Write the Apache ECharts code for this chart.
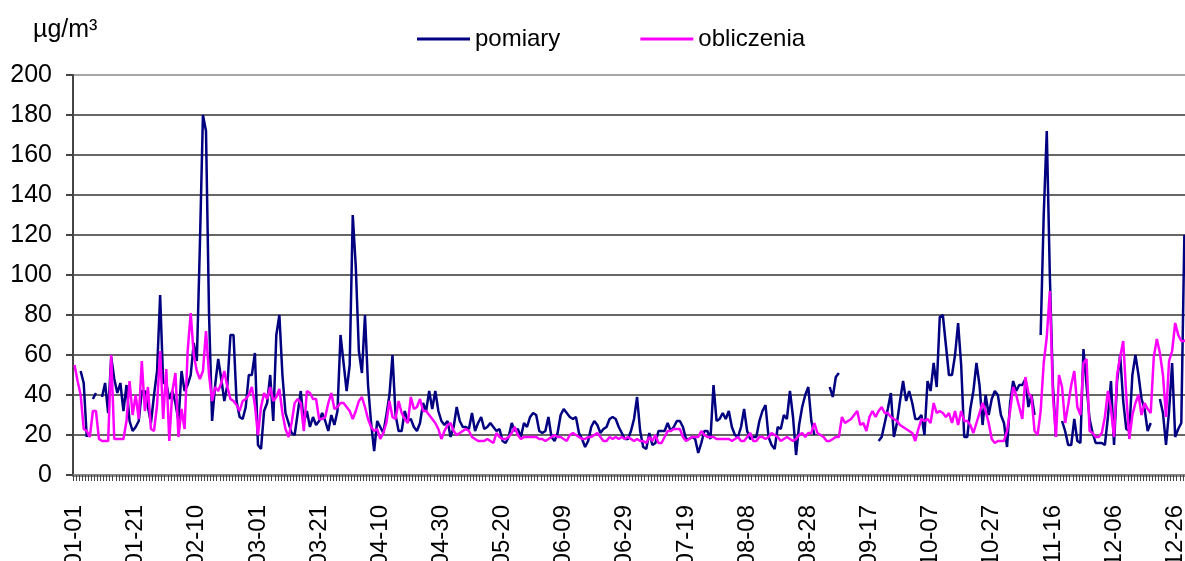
<!DOCTYPE html>
<html>
<head>
<meta charset="utf-8">
<script src="https://cdn.jsdelivr.net/npm/echarts@6/dist/echarts.min.js"></script>
<style>
  html, body { margin: 0; padding: 0; background: #fff; }
  #chart { width: 1185px; height: 561px; }
</style>
</head>
<body>
<div id="chart"></div>
<script>
// leap year, one category per day
const monthDays = [31, 29, 31, 30, 31, 30, 31, 31, 30, 31, 30, 31];

const pomiary = [
  null, null, 52, 46, 19, null, 38, 41, null, 39, 46, 31, 59, 48, 41, 46, 32, 45, 27, 22,
  24, 27, 42, 42, 34, 26, 40, 52, 90, 46, 46, 38, 42, 36, 27, 52, 42, 45, 50, 66,
  57, 115, 180, 172, 80, 27, 45, 58, 48, 37, 45, 70, 70, 37, 29, 28, 34, 50, 50, 61,
  15, 13, 32, 36, 50, 27, 70, 80, 50, 31, 26, 21, 20, 31, 42, 26, 32, 24, 29, 25,
  27, 31, 27, 22, 30, 25, 32, 70, 56, 42, 55, 130, 104, 62, 51, 80, 45, 26, 12, 27,
  24, 21, 30, 40, 60, 30, 22, 22, 32, 27, 28, 24, 22, 26, 36, 32, 42, 33, 42, 32,
  27, 25, 27, 19, 24, 34, 27, 24, 24, 23, 31, 22, 26, 29, 23, 24, 26, 24, 22, 23,
  17, 16, 19, 26, 22, 23, 19, 26, 24, 29, 31, 30, 22, 21, 22, 29, 19, 17, 21, 30,
  33, 31, 29, 28, 29, 21, 18, 14, 17, 24, 27, 25, 21, 23, 24, 28, 29, 28, 24, 21,
  18, 18, 22, 28, 39, 22, 14, 13, 21, 15, 16, 22, 22, 22, 26, 22, 24, 27, 27, 24,
  18, 18, 19, 18, 11, 16, 22, 22, 18, 45, 27, 28, 31, 28, 32, 24, 20, 19, 24, 33,
  22, 18, 19, 19, 27, 32, 35, 19, 15, 13, 24, 23, 30, 28, 42, 29, 10, 25, 34, 40,
  44, 27, 20, null, null, null, null, 44, 39, 49, 51, null, null, null, null, null, null, null, null, null,
  null, null, null, 17, 19, 26, 33, 41, 19, 26, 37, 47, 37, 42, 36, 28, 28, 30, 20, 47,
  42, 56, 44, 79, 80, 65, 50, 50, 60, 76, 55, 19, 19, 33, 42, 56, 45, 25, 40, 30,
  38, 42, 40, 30, 26, 14, 36, 47, 42, 45, 45, 48, 34, 40, 30, null, 70, 130, 172, 100,
  45, 19, null, 27, 22, 15, 15, 28, 17, 16, 63, 45, 28, 21, 16, 16, 16, 15, 29, 47,
  15, 47, 60, 37, 23, 22, 50, 60, 50, 38, 33, 22, 26, null, null, 38, 31, 15, 32, 56,
  19, 23, 26, 120, 110, 95
];

const obliczenia = [
  55, 47, 40, 23, 22, 19, 32, 32, 18, 17, 17, 17, 60, 18, 18, 18, 18, 27, 47, 30,
  40, 28, 57, 32, 44, 23, 22, 35, 62, 28, 53, 17, 42, 51, 19, 33, 23, 62, 81, 60,
  52, 48, 52, 72, 50, 37, 44, 42, 46, 52, 44, 38, 37, 35, 32, 37, 38, 40, 44, 35,
  20, 34, 41, 38, 44, 37, 39, 43, 31, 23, 19, 26, 36, 38, 36, 22, 42, 41, 38, 38,
  28, 28, 29, 36, 41, 33, 34, 36, 36, 34, 32, 28, 32, 37, 39, 34, 28, 24, 22, 23,
  18, 21, 26, 37, 29, 28, 37, 31, 28, 26, 39, 33, 34, 38, 32, 32, 30, 28, 26, 23,
  18, 22, 25, 26, 22, 20, 21, 22, 23, 22, 19, 18, 17, 17, 17, 18, 17, 16, 21, 19,
  18, 18, 19, 21, 24, 20, 18, 19, 19, 19, 19, 19, 18, 18, 17, 18, 19, 20, 19, 19,
  18, 17, 20, 21, 20, 19, 18, 18, 19, 19, 20, 21, 19, 17, 17, 19, 18, 19, 18, 19,
  18, 19, 18, 17, 18, 17, 17, 16, 19, 17, 20, 16, 16, 19, 22, 22, 23, 23, 23, 19,
  17, 18, 19, 19, 19, 22, 20, 19, 19, 19, 18, 18, 18, 18, 18, 17, 18, 19, 17, 17,
  19, 21, 17, 17, 19, 19, 18, 19, 21, 20, 19, 17, 18, 19, 18, 17, 18, 20, 21, 19,
  21, 21, 26, 21, 20, 19, 17, 17, 18, 19, 19, 29, 26, 27, 28, 30, 32, 25, 26, 22,
  29, 32, 29, 32, 34, 31, 31, 29, 28, 27, 25, 24, 23, 22, 21, 17, 23, 28, 27, 28,
  26, 36, 31, 32, 31, 29, 31, 26, 32, 25, 32, 27, 27, 25, 21, 26, 31, 36, 32, 26,
  18, 16, 17, 17, 17, 22, 32, 44, 40, 34, 28, 49, 41, 39, 22, 20, 32, 56, 69, 92,
  40, 19, 50, 44, 26, 35, 45, 52, 34, 30, 56, 58, 22, 21, 19, 19, 21, 29, 42, 33,
  19, 50, 59, 67, 40, 18, 30, 36, 40, 30, 36, 33, 31, 59, 68, 61, 50, 29, 57, 62,
  76, 70, 67, 67, 68, 66
];

const days = [];
for (let m = 0; m < 12; m++) {
  for (let d = 1; d <= monthDays[m]; d++) {
    days.push(String(m + 1).padStart(2, '0') + '-' + String(d).padStart(2, '0'));
  }
}

const font = "'Liberation Sans', Arial, sans-serif";
// dark grid lines, the top one (200) lighter
const gridColors = ['#333', '#333', '#333', '#333', '#333', '#333', '#333', '#333', '#333', '#333', '#888'];

const chart = echarts.init(document.getElementById('chart'), null, {renderer: 'canvas'});
const option = {
  animation: false,
  backgroundColor: '#fff',
  title: {
    text: 'µg/m³',
    left: 28,
    top: 13,
    textStyle: {fontFamily: font, fontSize: 25, fontWeight: 'normal', color: '#000'}
  },
  legend: {
    left: 412,
    top: 22,
    icon: 'rect',
    itemWidth: 53,
    itemHeight: 3,
    itemGap: 80,
    textStyle: {fontFamily: font, fontSize: 24, color: '#000'},
    data: ['pomiary', 'obliczenia']
  },
  grid: {
    left: 73,
    right: -7,
    top: 75,
    bottom: 86,
    containLabel: false,
    outerBoundsMode: 'none'
  },
  xAxis: {
    type: 'category',
    data: days,
    boundaryGap: true,
    axisLine: {lineStyle: {color: '#888', width: 3}},
    axisTick: {show: true, interval: 0, length: 6, lineStyle: {color: '#444'}},
    axisLabel: {
      interval: 19,
      rotate: 90,
      margin: 30,
      fontFamily: font,
      fontSize: 24,
      color: '#000'
    },
    splitLine: {show: false}
  },
  yAxis: {
    type: 'value',
    min: 0,
    max: 200,
    interval: 20,
    axisLine: {show: true, lineStyle: {color: '#444', width: 2}},
    axisTick: {show: true, length: 7, lineStyle: {color: '#444', width: 2}},
    axisLabel: {fontFamily: font, fontSize: 25, color: '#000', margin: 21},
    splitLine: {show: true, lineStyle: {color: gridColors, width: 1.5}}
  },
  series: [
    {
      name: 'pomiary',
      type: 'line',
      data: pomiary,
      symbol: 'none',
      connectNulls: false,
      itemStyle: {color: '#000080'},
      lineStyle: {color: '#000080', width: 2.5}
    },
    {
      name: 'obliczenia',
      type: 'line',
      data: obliczenia,
      symbol: 'none',
      connectNulls: false,
      itemStyle: {color: '#ff00ff'},
      lineStyle: {color: '#ff00ff', width: 2.5}
    }
  ]
};
chart.setOption(option);
</script>
</body>
</html>
